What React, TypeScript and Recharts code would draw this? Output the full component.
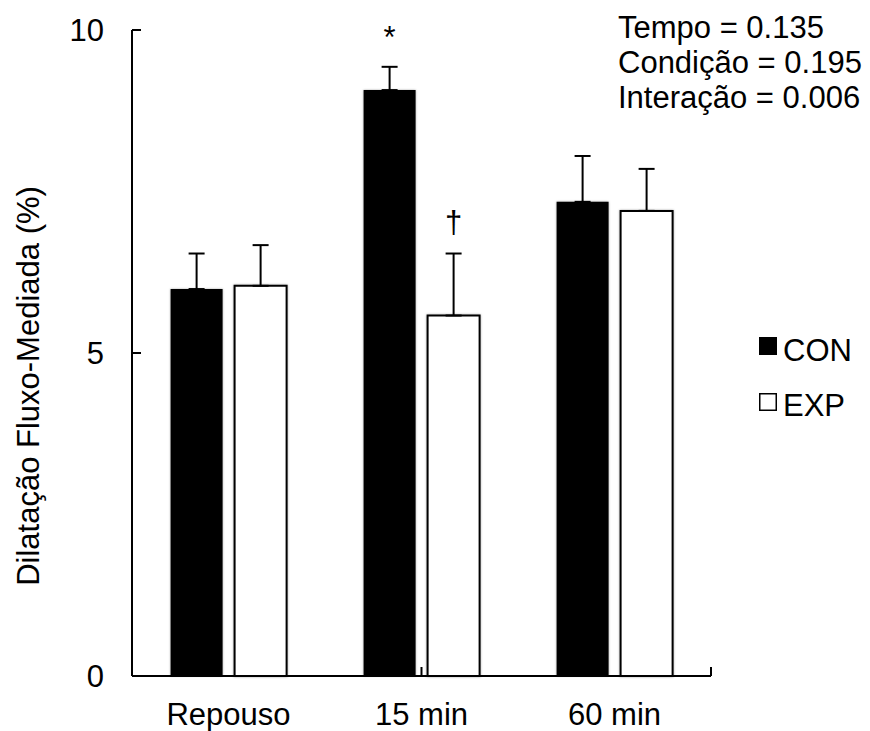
import React from 'react';
import { BarChart, Bar, XAxis, YAxis, ErrorBar, LabelList, Legend, Label } from 'recharts';

const categories = ['Repouso', '15 min', '60 min'];
const conMeans = [5.99, 9.07, 7.34];
const conErrors = [0.55, 0.36, 0.71];
const expMeans = [6.04, 5.58, 7.2];
const expErrors = [0.63, 0.96, 0.65];
const conMarks = ['', '*', ''];
const expMarks = ['', '†', ''];
const yTicks = [0, 5, 10];
const boundaryTicks = [0, 1, 2, 3];
const statsLines = ['Tempo = 0.135', 'Condição = 0.195', 'Interação = 0.006'];
const yLabel = 'Dilatação Fluxo-Mediada (%)';
const seriesNames = ['CON', 'EXP'];

const FONT = '"Liberation Sans", Arial, sans-serif';
const FS = 31;

const data = categories.map((c, i) => ({
  cat: c,
  con: conMeans[i],
  conErr: [0, conErrors[i]],
  exp: expMeans[i],
  expErr: [0, expErrors[i]],
}));

const makeMarker = (errs: number[], means: number[], marks: string[], gap: number) => (props: any) => {
  const x = Number(props.x);
  const y = Number(props.y);
  const width = Number(props.width);
  const height = Number(props.height);
  const index = props.index;
  const m = marks[index];
  if (!m) return null;
  const capY = y - (height * errs[index]) / means[index];
  return (
    <text x={x + width / 2} y={capY - gap} textAnchor="middle" fontSize={FS} fontFamily={FONT} fill="#000">
      {m}
    </text>
  );
};

const renderLegend = () => (
  <svg width={110} height={110} style={{ display: 'block' }}>
    {seriesNames.map((name, i) => (
      <g key={name}>
        <rect
          x={4.75}
          y={7.75 + 56 * i}
          width={16.5}
          height={16.5}
          fill={i === 0 ? '#000' : '#fff'}
          stroke="#000"
          strokeWidth={1.5}
        />
        <text x={28} y={31 + 55 * i} fontSize={FS} fontFamily={FONT} fill="#000">
          {name}
        </text>
      </g>
    ))}
  </svg>
);

const renderYLabel = () => (
  <text
    x={39}
    y={386}
    transform="rotate(-90, 39, 386)"
    textAnchor="middle"
    fontSize={FS}
    fontFamily={FONT}
    fill="#000"
  >
    {yLabel}
  </text>
);

export default function App() {
  return (
    <div style={{ position: 'absolute', left: 0, top: 0, width: 870, height: 731, background: '#fff' }}>
      <style>{`.recharts-bar-rectangle path { filter: drop-shadow(0px 0px 1.2px rgba(0,0,0,0.35)); }`}</style>
      <BarChart
        width={870}
        height={731}
        data={data}
        margin={{ top: 30, right: 159, bottom: 0, left: 62 }}
        barCategoryGap="20%"
        barGap={12}
        style={{ fontFamily: FONT }}
      >
        <XAxis
          dataKey="cat"
          height={55}
          tickLine={false}
          tickSize={0}
          tickMargin={27}
          axisLine={{ stroke: '#000', strokeWidth: 2 }}
          tick={{ fontSize: FS, fill: '#000', fontFamily: FONT }}
        />
        <XAxis
          xAxisId="b"
          type="number"
          domain={[0, 3]}
          allowDataOverflow
          ticks={boundaryTicks}
          mirror
          tickSize={9}
          axisLine={false}
          tickLine={{ stroke: '#000', strokeWidth: 2 }}
          tick={() => <g />}
        />
        <YAxis
          width={70}
          domain={[0, 10]}
          ticks={yTicks}
          tickLine={false}
          tickSize={0}
          tickMargin={28}
          axisLine={{ stroke: '#000', strokeWidth: 2 }}
          tick={{ fontSize: FS, fill: '#000', fontFamily: FONT }}
          label={<Label content={renderYLabel} />}
        />
        <YAxis
          yAxisId="t"
          domain={[0, 10]}
          ticks={yTicks}
          allowDataOverflow
          mirror
          tickSize={9}
          axisLine={false}
          tickLine={{ stroke: '#000', strokeWidth: 2 }}
          tick={() => <g />}
        />
        <Legend
          layout="vertical"
          align="center"
          verticalAlign="middle"
          content={renderLegend}
          wrapperStyle={{ left: 755, top: 330, width: 110, height: 110 }}
        />
        <Bar dataKey="con" name="CON" fill="#000" isAnimationActive={false}>
          <ErrorBar dataKey="conErr" width={8} stroke="#000" strokeWidth={2} direction="y" isAnimationActive={false} />
          <LabelList dataKey="con" content={makeMarker(conErrors, conMeans, conMarks, 19)} />
        </Bar>
        <Bar dataKey="exp" name="EXP" fill="#fff" stroke="#000" strokeWidth={2} isAnimationActive={false}>
          <ErrorBar dataKey="expErr" width={8} stroke="#000" strokeWidth={2} direction="y" isAnimationActive={false} />
          <LabelList dataKey="exp" content={makeMarker(expErrors, expMeans, expMarks, 21)} />
        </Bar>
      </BarChart>
      <div
        style={{
          position: 'absolute',
          left: 618,
          top: 10,
          fontFamily: FONT,
          fontSize: FS,
          lineHeight: '35px',
          color: '#000',
          whiteSpace: 'nowrap',
        }}
      >
        {statsLines.map((l) => (
          <div key={l}>{l}</div>
        ))}
      </div>
    </div>
  );
}
